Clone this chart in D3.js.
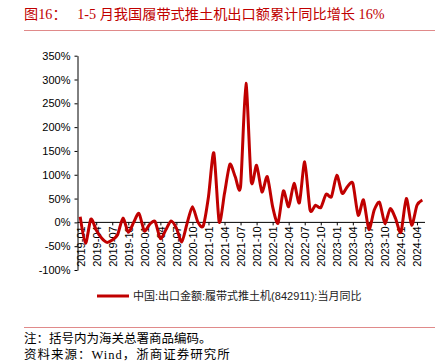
<!DOCTYPE html>
<html>
<head>
<meta charset="utf-8">
<script src="https://cdn.jsdelivr.net/npm/d3@7"></script>
<style>
  body { margin: 0; background: #fff; }
  svg { display: block; }
</style>
</head>
<body>
<svg id="chart" width="445" height="364"></svg>
<script>
const MONTHS = [
  "2019-01", "2019-02", "2019-03", "2019-04", "2019-05", "2019-06", "2019-07", "2019-08", "2019-09", "2019-10", "2019-11", "2019-12",
  "2020-01", "2020-02", "2020-03", "2020-04", "2020-05", "2020-06", "2020-07", "2020-08", "2020-09", "2020-10", "2020-11", "2020-12",
  "2021-01", "2021-02", "2021-03", "2021-04", "2021-05", "2021-06", "2021-07", "2021-08", "2021-09", "2021-10", "2021-11", "2021-12",
  "2022-01", "2022-02", "2022-03", "2022-04", "2022-05", "2022-06", "2022-07", "2022-08", "2022-09", "2022-10", "2022-11", "2022-12",
  "2023-01", "2023-02", "2023-03", "2023-04", "2023-05", "2023-06", "2023-07", "2023-08", "2023-09", "2023-10", "2023-11", "2023-12",
  "2024-01", "2024-02", "2024-03", "2024-04", "2024-05",
];

// 当月同比, %
const YOY = [
  12, -44, 7, -16, -33, -42, -37, -26, 9, -21, 0, 19,
  -18, -4, 2, -34, -16, 3, -12, -41, -2, 33, 1, -8,
  54, 146, 1, 61, 122, 96, 75, 292, 85, 120, 64, 96,
  33, -2, 66, 33, 82, 41, 127, 26, 36, 31, 59, 54,
  99, 61, 75, 82, 15, 47, -15, 26, 42, -2, 29, 8,
  -21, 50, -6, 36, 47,
];

const Y_TICKS = [-100, -50, 0, 50, 100, 150, 200, 250, 300, 350];
const X_TICKS = MONTHS.filter((d, i) => i % 3 === 0);

const TITLE = "图16：   1-5 月我国履带式推土机出口额累计同比增长 16%";
const LEGEND = "中国:出口金额:履带式推土机(842911):当月同比";
const NOTE = "注：括号内为海关总署商品编码。";
const SOURCE = "资料来源：Wind，浙商证券研究所";

const RED = "#c00000";
const serif = "'Liberation Serif', 'DejaVu Serif', 'Noto Sans CJK SC', serif";
const sans = "'Liberation Sans', Arial, 'Noto Sans CJK SC', sans-serif";

const svg = d3.select("#chart");

const x = d3.scalePoint().domain(MONTHS).range([77.5, 425]).padding(0.5);
const y = d3.scaleLinear().domain([-100, 350]).range([270, 55.7]);

// title + rules
svg.append("text")
  .attr("x", 24).attr("y", 19)
  .attr("font-family", serif).attr("font-size", 14.2)
  .attr("fill", RED)
  .attr("xml:space", "preserve")
  .text(TITLE);

svg.append("line")
  .attr("x1", 24).attr("x2", 435).attr("y1", 30.5).attr("y2", 30.5)
  .attr("stroke", "#e08a8a").attr("stroke-width", 1);

svg.append("line")
  .attr("x1", 24).attr("x2", 435).attr("y1", 327.5).attr("y2", 327.5)
  .attr("stroke", "#e08a8a").attr("stroke-width", 1);

// y axis
const yAxis = svg.append("g")
  .attr("transform", "translate(77.5,0)")
  .call(d3.axisLeft(y).tickValues(Y_TICKS).tickSize(3).tickSizeOuter(0).tickFormat((d) => d + "%"));
yAxis.select(".domain").attr("stroke", "#000");
yAxis.selectAll(".tick line").attr("stroke", "#000");
yAxis.selectAll("text")
  .attr("font-family", sans).attr("font-size", 11).attr("fill", "#000")
  .attr("x", -7);

// x axis on zero line
const xAxis = svg.append("g")
  .attr("transform", `translate(0,${y(0)})`)
  .call(d3.axisBottom(x).tickValues(X_TICKS).tickSize(3).tickSizeOuter(0));
xAxis.select(".domain").attr("d", `M77.5,0H425`).attr("stroke", "#000");
xAxis.selectAll(".tick line").attr("stroke", "#000");
xAxis.selectAll("text")
  .attr("font-family", sans).attr("font-size", 11).attr("fill", "#000")
  .attr("transform", "rotate(-90)")
  .attr("text-anchor", "end")
  .attr("x", -4).attr("y", 0).attr("dy", "0.35em");

// series
const line = d3.line()
  .x((d, i) => x(MONTHS[i]))
  .y((d) => y(d))
  .curve(d3.curveCardinal.tension(0.3));

svg.append("path")
  .datum(YOY)
  .attr("d", line)
  .attr("fill", "none")
  .attr("stroke", RED)
  .attr("stroke-width", 3)
  .attr("stroke-linejoin", "round");

// legend
svg.append("line")
  .attr("x1", 97).attr("x2", 129).attr("y1", 296).attr("y2", 296)
  .attr("stroke", RED).attr("stroke-width", 3);
svg.append("text")
  .attr("x", 133).attr("y", 300)
  .attr("font-family", sans).attr("font-size", 11).attr("fill", "#222")
  .text(LEGEND);

// notes
svg.append("text")
  .attr("x", 24).attr("y", 343)
  .attr("font-family", serif).attr("font-size", 12.5).attr("fill", "#000")
  .text(NOTE);
svg.append("text")
  .attr("x", 24).attr("y", 359)
  .attr("font-family", serif).attr("font-size", 12.5).attr("fill", "#000")
  .attr("letter-spacing", 1)
  .text(SOURCE);
</script>
</body>
</html>
